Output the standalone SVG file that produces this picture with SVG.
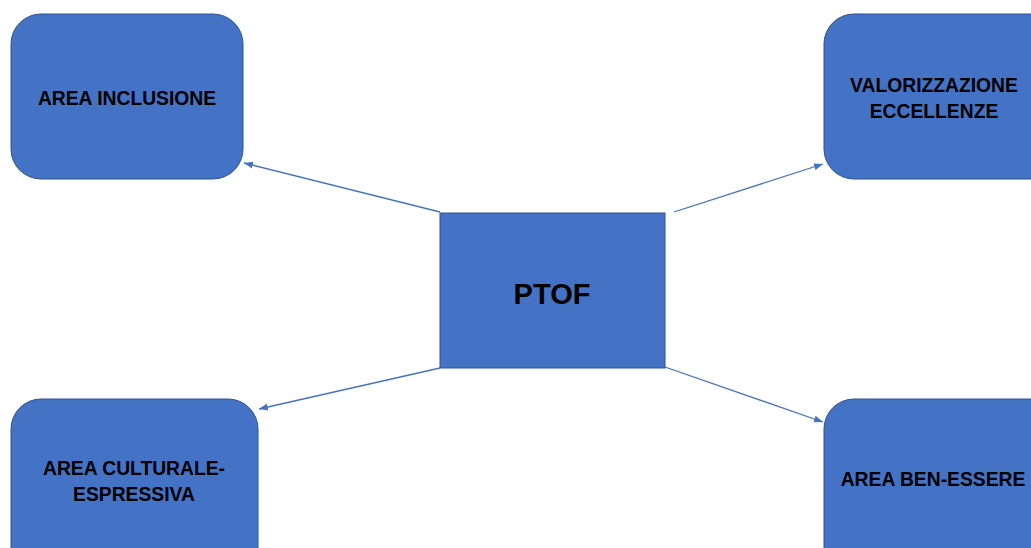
<svg xmlns="http://www.w3.org/2000/svg" width="1031" height="548" viewBox="0 0 1031 548">
<style>
.box{fill:#4472C4;stroke:#2F528F;stroke-width:1}
.lbl{font-family:"Liberation Sans",Arial,sans-serif;font-weight:bold;font-size:19.3px;fill:#000;text-anchor:middle}
.big{font-size:29px}
.conn{stroke:#4472C4;stroke-width:1.3;fill:none;marker-end:url(#ah)}
</style>
<defs>
<marker id="ah" markerWidth="10" markerHeight="8" refX="9" refY="4" orient="auto" markerUnits="userSpaceOnUse">
<path d="M0,0.5 L9,4 L0,7.5 Z" fill="#4472C4"/>
</marker>
</defs>
<rect width="1031" height="548" fill="#fff"/>
<g id="connectors">
<line class="conn" x1="440" y1="212" x2="244" y2="163"/>
<line class="conn" x1="674" y1="212" x2="823" y2="164"/>
<line class="conn" x1="440" y1="368" x2="259" y2="409"/>
<line class="conn" x1="665" y1="367" x2="823" y2="422"/>
</g>
<g id="ptof">
<rect class="box" x="440" y="213" width="225" height="155"/>
<text class="lbl big" x="552" y="304">PTOF</text>
</g>
<g id="inclusione">
<rect class="box" x="11" y="14" width="232" height="165" rx="30" ry="30"/>
<text class="lbl" x="127" y="105">AREA INCLUSIONE</text>
</g>
<g id="eccellenze">
<rect class="box" x="824" y="14" width="240" height="165" rx="30" ry="30"/>
<text class="lbl" x="934" y="92">VALORIZZAZIONE</text>
<text class="lbl" x="934" y="118">ECCELLENZE</text>
</g>
<g id="culturale">
<rect class="box" x="11" y="399" width="247" height="180" rx="30" ry="30"/>
<text class="lbl" x="134" y="475">AREA CULTURALE-</text>
<text class="lbl" x="134" y="501">ESPRESSIVA</text>
</g>
<g id="benessere">
<rect class="box" x="824" y="399" width="240" height="180" rx="30" ry="30"/>
<text class="lbl" x="933" y="486">AREA BEN-ESSERE</text>
</g>
</svg>
